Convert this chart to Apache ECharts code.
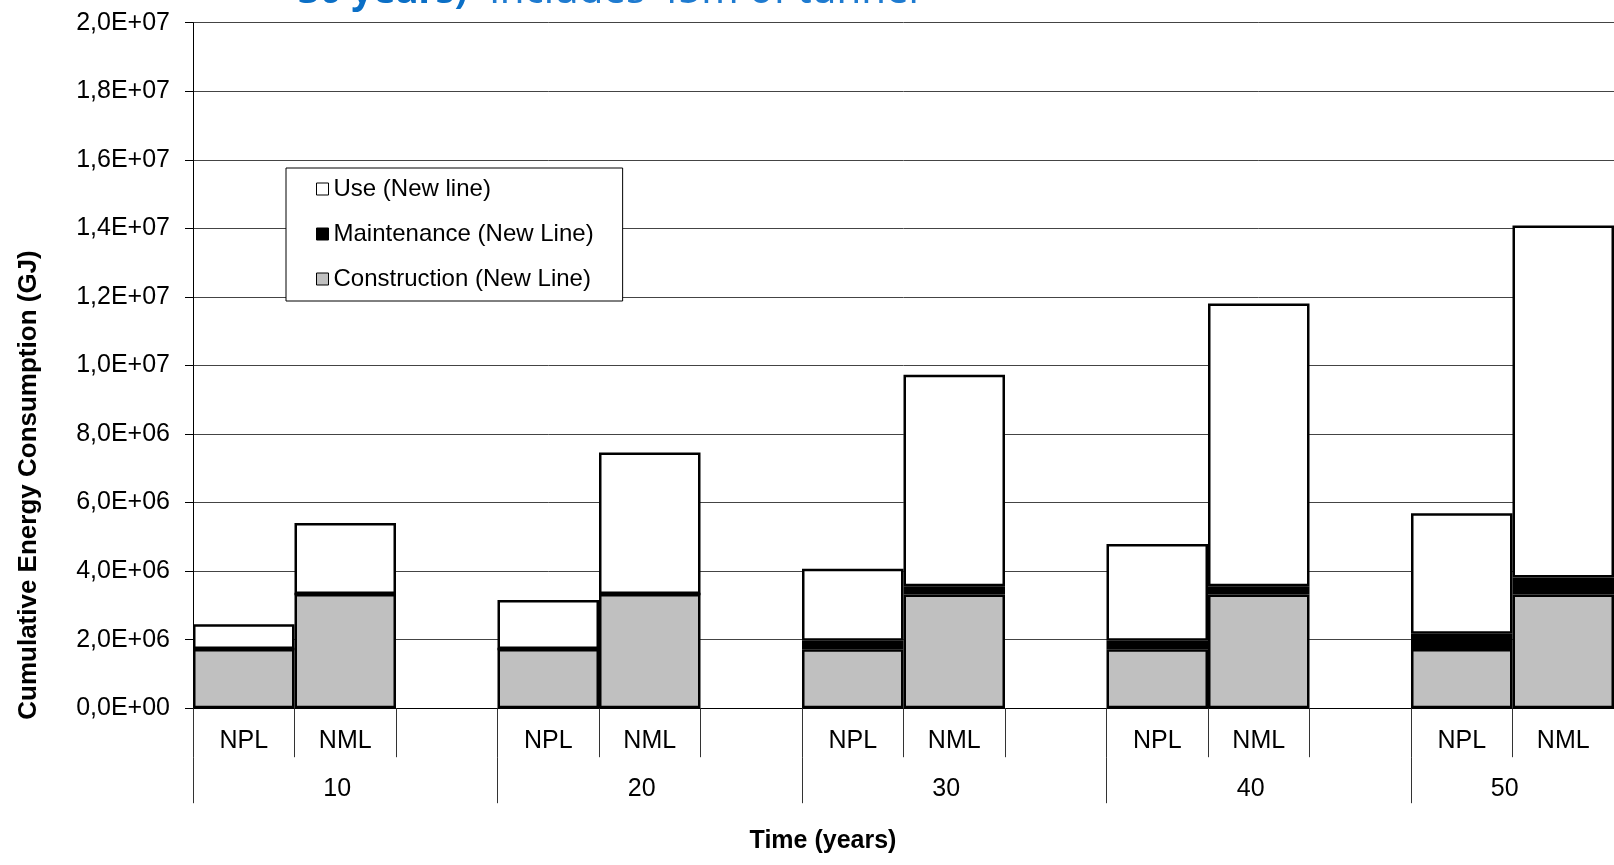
<!DOCTYPE html>
<html>
<head>
<meta charset="utf-8">
<script src="https://cdn.jsdelivr.net/npm/echarts@6/dist/echarts.min.js"></script>
<style>
  html, body { margin: 0; padding: 0; background: #fff; overflow: hidden; }
  #chart { width: 1614px; height: 865px; }
</style>
</head>
<body>
<div id="chart"></div>
<script>
// Time horizons (years) and the two lines compared in each horizon
const groups = ['10', '20', '30', '40', '50'];
const lines = ['NPL', 'NML'];

// Cumulative energy consumption (GJ) per horizon
const nplConstruction = [1.73e6, 1.73e6, 1.72e6, 1.72e6, 1.73e6];
const nmlConstruction = [3.33e6, 3.33e6, 3.32e6, 3.32e6, 3.32e6];
const nplMaintenance  = [0, 0, 0.25e6, 0.25e6, 0.44e6];
const nmlMaintenance  = [0, 0, 0.24e6, 0.24e6, 0.49e6];
const nplUse          = [0.72e6, 1.43e6, 2.10e6, 2.82e6, 3.52e6];
const nmlUse          = [2.07e6, 4.13e6, 6.17e6, 8.25e6, 10.27e6];

// Y-axis tick values
const yMin = 0, yMax = 2e7, yStep = 2e6;

// Legend / series names
const seriesNames = ['Construction (New Line)', 'Maintenance (New Line)', 'Use (New line)'];

// Each horizon occupies three slots (NPL, NML, spacer); the last one has no spacer
const slots = [];
const groupSlots = [];
groups.forEach((g, i) => {
  const last = i === groups.length - 1;
  slots.push(lines[0], lines[1]);
  if (!last) {
    slots.push('');
    // label centred on the middle slot of a three-slot group
    groupSlots.push('', { value: g, textStyle: { padding: [0, 16, 0, 0] } }, '');
  } else {
    // two-slot group: label centred on the NPL/NML boundary
    groupSlots.push({ value: g, textStyle: { padding: [0, 0, 0, 86] } }, '');
  }
});

function spread(npl, nml) {
  const out = [];
  groups.forEach((g, i) => {
    out.push(npl[i], nml[i]);
    if (i < groups.length - 1) out.push(null);
  });
  return out;
}

function sciLabel(v) {
  if (v === 0) return '0,0E+00';
  const e = Math.floor(Math.log10(v) + 1e-9);
  const m = v / Math.pow(10, e);
  return m.toFixed(1).replace('.', ',') + 'E+' + String(e).padStart(2, '0');
}

const FONT = 'Liberation Sans, Arial, sans-serif';
const border = { borderColor: '#000', borderWidth: 2.5 };

const chart = echarts.init(document.getElementById('chart'), null, { renderer: 'canvas' });

chart.setOption({
  backgroundColor: '#fff',
  animation: false,
  textStyle: { fontFamily: FONT },
  grid: { left: 193, right: 0, top: 22.7, bottom: 156.8, containLabel: false },
  legend: {
    orient: 'vertical',
    left: 286,
    top: 168,
    padding: [9, 29, 10, 30],
    itemGap: 21,
    itemWidth: 12,
    itemHeight: 12,
    backgroundColor: '#fff',
    borderColor: '#000',
    borderWidth: 1,
    borderRadius: 0,
    icon: 'rect',
    textStyle: { fontFamily: FONT, fontSize: 24, color: '#000', lineHeight: 24 },
    data: [
      { name: seriesNames[2], itemStyle: { color: '#fff', borderColor: '#000', borderWidth: 1 } },
      { name: seriesNames[1], itemStyle: { color: '#000', borderColor: '#000', borderWidth: 1 } },
      { name: seriesNames[0], itemStyle: { color: '#c0c0c0', borderColor: '#000', borderWidth: 1 } }
    ]
  },
  xAxis: [
    {
      type: 'category',
      data: slots,
      boundaryGap: true,
      axisLine: { show: true, lineStyle: { color: '#000', width: 1 } },
      axisTick: { show: true, interval: 0, length: 49, lineStyle: { color: '#333', width: 1 } },
      axisLabel: { interval: 0, margin: 20, fontFamily: FONT, fontSize: 25, color: '#000' },
      splitLine: { show: false }
    },
    {
      type: 'category',
      data: groupSlots,
      position: 'bottom',
      offset: 49,
      boundaryGap: true,
      axisLine: { show: false },
      axisTick: {
        show: true, length: 46, lineStyle: { color: '#333', width: 1 },
        interval: function (index) { return index % 3 === 0; }
      },
      axisLabel: { interval: 0, margin: 19, fontFamily: FONT, fontSize: 25, color: '#000' },
      splitLine: { show: false }
    }
  ],
  yAxis: {
    type: 'value',
    min: yMin,
    max: yMax,
    interval: yStep,
    axisLine: { show: true, lineStyle: { color: '#000', width: 1 } },
    axisTick: { show: true, length: 8, lineStyle: { color: '#000', width: 1 } },
    axisLabel: { margin: 23, fontFamily: FONT, fontSize: 25, color: '#000', formatter: sciLabel },
    splitLine: { show: true, lineStyle: { color: '#444', width: 1 } }
  },
  series: [
    {
      name: seriesNames[0], type: 'bar', stack: 'total', xAxisIndex: 0,
      barCategoryGap: '0%', barGap: '0%',
      itemStyle: Object.assign({ color: '#c0c0c0' }, border),
      data: spread(nplConstruction, nmlConstruction)
    },
    {
      name: seriesNames[1], type: 'bar', stack: 'total', xAxisIndex: 0,
      barCategoryGap: '0%', barGap: '0%',
      itemStyle: Object.assign({ color: '#000' }, border),
      data: spread(nplMaintenance, nmlMaintenance)
    },
    {
      name: seriesNames[2], type: 'bar', stack: 'total', xAxisIndex: 0,
      barCategoryGap: '0%', barGap: '0%',
      itemStyle: Object.assign({ color: '#fff' }, border),
      data: spread(nplUse, nmlUse)
    }
  ],
  graphic: [
    {
      type: 'text', x: 29, y: 485, rotation: Math.PI / 2,
      style: {
        text: 'Cumulative Energy Consumption (GJ)',
        font: 'bold 26px ' + FONT, fill: '#000',
        textAlign: 'center', textVerticalAlign: 'middle'
      }
    },
    {
      type: 'text', x: 823, y: 841,
      style: {
        text: 'Time (years)',
        font: 'bold 25px ' + FONT, fill: '#000',
        textAlign: 'center', textVerticalAlign: 'middle'
      }
    },
    {
      type: 'text', x: 298, y: -8,
      style: {
        text: '{b|30 years)}{s| }{n|includes 45m of tunnel}',
        textAlign: 'left', textVerticalAlign: 'middle',
        rich: {
          b: { fontFamily: 'Noto Sans', fontWeight: 'bold', fontSize: 38, fill: '#0b6fc6', color: '#0b6fc6' },
          s: { fontFamily: 'Noto Sans', fontSize: 38, width: 22 },
          n: { fontFamily: 'Noto Sans', fontSize: 40, fill: '#1f7bd0', color: '#1f7bd0' }
        }
      }
    }
  ]
});
</script>
</body>
</html>
